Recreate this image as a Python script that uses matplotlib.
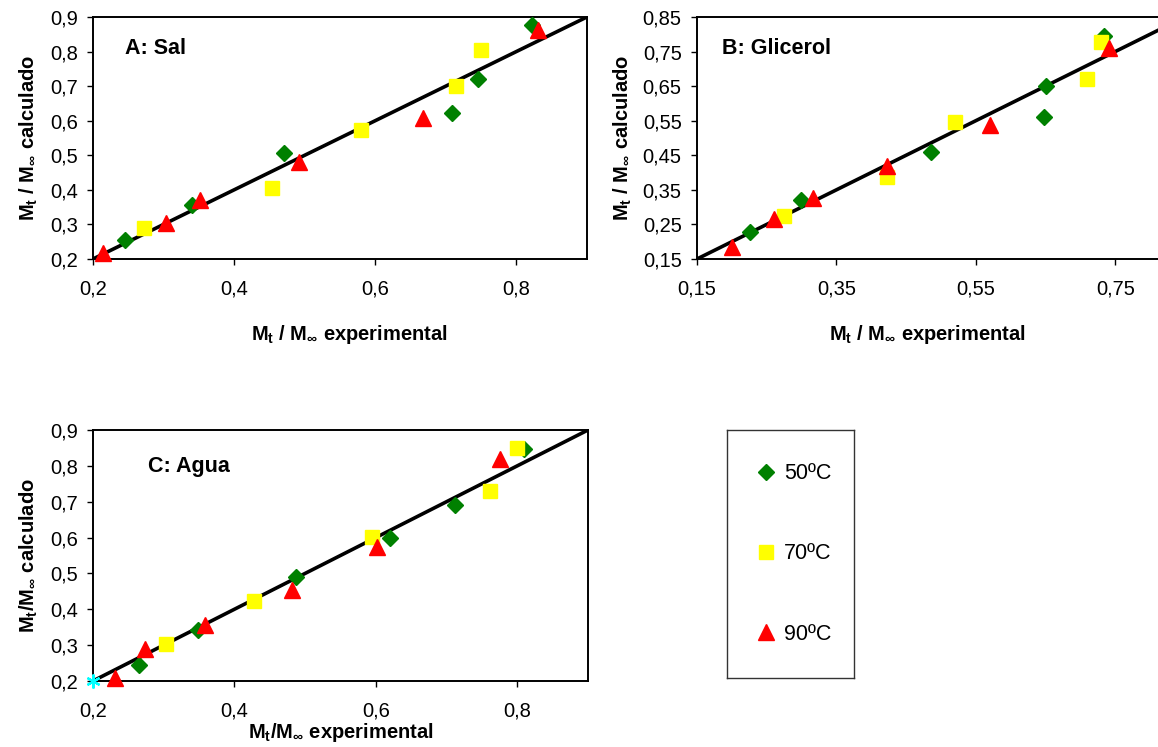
import matplotlib
matplotlib.use("Agg")
import matplotlib.pyplot as plt
from matplotlib.lines import Line2D

plt.rcParams['font.family'] = ['Liberation Sans', 'DejaVu Sans']
plt.rcParams['mathtext.fontset'] = 'custom'
plt.rcParams['mathtext.rm'] = 'Liberation Sans'
plt.rcParams['mathtext.bf'] = 'Liberation Sans:bold'
plt.rcParams['mathtext.it'] = 'Liberation Sans:italic'

# ---- data ----
# A: Sal
a_50_x = [0.245, 0.340, 0.471, 0.709, 0.746, 0.822]
a_50_y = [0.255, 0.357, 0.506, 0.622, 0.721, 0.878]
a_70_x = [0.272, 0.453, 0.580, 0.714, 0.750]
a_70_y = [0.290, 0.405, 0.574, 0.700, 0.803]
a_90_x = [0.214, 0.304, 0.352, 0.492, 0.667, 0.830]
a_90_y = [0.217, 0.304, 0.372, 0.481, 0.608, 0.861]

# B: Glicerol
b_50_x = [0.226, 0.299, 0.486, 0.648, 0.650, 0.734]
b_50_y = [0.227, 0.322, 0.460, 0.562, 0.650, 0.796]
b_70_x = [0.275, 0.423, 0.520, 0.709, 0.729]
b_70_y = [0.274, 0.387, 0.547, 0.670, 0.777]
b_90_x = [0.200, 0.261, 0.317, 0.422, 0.571, 0.741]
b_90_y = [0.186, 0.265, 0.325, 0.420, 0.538, 0.759]

# C: Agua
c_50_x = [0.265, 0.348, 0.487, 0.620, 0.712, 0.809]
c_50_y = [0.244, 0.343, 0.489, 0.598, 0.692, 0.846]
c_70_x = [0.303, 0.427, 0.595, 0.761, 0.800]
c_70_y = [0.302, 0.424, 0.602, 0.731, 0.849]
c_90_x = [0.231, 0.273, 0.358, 0.482, 0.602, 0.776]
c_90_y = [0.209, 0.290, 0.355, 0.455, 0.575, 0.820]
c_extra = [0.2, 0.2]

# axis ranges and ticks
ac_lim = [0.2, 0.9]
ac_xticks = [0.2, 0.4, 0.6, 0.8]
ac_xlabels = ['0,2', '0,4', '0,6', '0,8']
ac_yticks = [0.2, 0.3, 0.4, 0.5, 0.6, 0.7, 0.8, 0.9]
ac_ylabels = ['0,2', '0,3', '0,4', '0,5', '0,6', '0,7', '0,8', '0,9']
b_lim = [0.15, 0.85]
b_xticks = [0.15, 0.35, 0.55, 0.75]
b_xlabels = ['0,15', '0,35', '0,55', '0,75']
b_yticks = [0.15, 0.25, 0.35, 0.45, 0.55, 0.65, 0.75, 0.85]
b_ylabels = ['0,15', '0,25', '0,35', '0,45', '0,55', '0,65', '0,75', '0,85']

labels = ['50ºC', '70ºC', '90ºC']

GREEN = '#008000'
YELLOW = '#FFFF00'
RED = '#FF0000'

fig = plt.figure(figsize=(11.58, 7.47), dpi=100)


def style_axes(ax, lim, xt, xl, yt, yl):
    ax.set_xlim(lim)
    ax.set_ylim(lim)
    ax.set_xticks(xt)
    ax.set_xticklabels(xl)
    ax.set_yticks(yt)
    ax.set_yticklabels(yl)
    ax.tick_params(axis='both', direction='out', length=4, width=1, labelsize=14.5, colors='black')
    ax.tick_params(axis='x', pad=11)
    ax.tick_params(axis='y', pad=7)
    for s in ax.spines.values():
        s.set_linewidth(1.4)
        s.set_color('black')
    # 1:1 line
    ax.plot(lim, lim, color='black', lw=2.6, zorder=2)


def scatter_sets(ax, x50, y50, x70, y70, x90, y90):
    ax.plot(x50, y50, 'D', color=GREEN, ms=8, mec=GREEN, zorder=3, clip_on=False)
    ax.plot(x70, y70, 's', color=YELLOW, ms=9.5, mec=YELLOW, zorder=3, clip_on=False)
    ax.plot(x90, y90, '^', color=RED, ms=11.5, mec=RED, zorder=3, clip_on=False)


ylab = r'$\mathbf{M_t}$ / $\mathbf{M_{\infty}}$ calculado'
xlab = r'$\mathbf{M_t}$ / $\mathbf{M_{\infty}}$ experimental'
LBL = 14.5

# Panel A
axA = fig.add_axes([0.0803, 0.6533, 0.4266, 0.3240])
style_axes(axA, ac_lim, ac_xticks, ac_xlabels, ac_yticks, ac_ylabels)
scatter_sets(axA, a_50_x, a_50_y, a_70_x, a_70_y, a_90_x, a_90_y)
axA.set_xlabel(xlab, fontsize=LBL, fontweight='bold')
axA.xaxis.set_label_coords(0.52, -0.265)
axA.set_ylabel(ylab, fontsize=LBL, fontweight='bold', labelpad=7)
axA.text(0.065, 0.87, 'A: Sal', transform=axA.transAxes, fontsize=15.5,
         fontweight='bold', va='center', ha='left')

# Panel B (runs past the right edge of the figure)
axB = fig.add_axes([0.6019, 0.6533, 0.4214, 0.3240])
style_axes(axB, b_lim, b_xticks, b_xlabels, b_yticks, b_ylabels)
scatter_sets(axB, b_50_x, b_50_y, b_70_x, b_70_y, b_90_x, b_90_y)
axB.set_xlabel(xlab, fontsize=LBL, fontweight='bold')
axB.xaxis.set_label_coords(0.5 * 461 / 488, -0.265)
axB.set_ylabel(ylab, fontsize=LBL, fontweight='bold', labelpad=6)
axB.text(0.051, 0.87, 'B: Glicerol', transform=axB.transAxes, fontsize=15.5,
         fontweight='bold', va='center', ha='left')

# Panel C
axC = fig.add_axes([0.0803, 0.0884, 0.4275, 0.3360])
style_axes(axC, ac_lim, ac_xticks, ac_xlabels, ac_yticks, ac_ylabels)
scatter_sets(axC, c_50_x, c_50_y, c_70_x, c_70_y, c_90_x, c_90_y)
axC.plot([c_extra[0]], [c_extra[1]], marker=(6, 2, 0), color='#00FFFF', ms=10,
         mew=1.6, zorder=4, clip_on=False)
axC.set_xlabel(r'$\mathbf{M_t}$/$\mathbf{M_{\infty}}$ experimental', fontsize=LBL,
               fontweight='bold', labelpad=0)
axC.set_ylabel(r'$\mathbf{M_t}$/$\mathbf{M_{\infty}}$ calculado', fontsize=LBL,
               fontweight='bold', labelpad=7)
axC.text(0.111, 0.853, 'C: Agua', transform=axC.transAxes, fontsize=15.5,
         fontweight='bold', va='center', ha='left')

# legend box
axL = fig.add_axes([0.6278, 0.0924, 0.1097, 0.332])
axL.set_xticks([])
axL.set_yticks([])
for s in axL.spines.values():
    s.set_linewidth(1)
    s.set_color('#333333')
handles = [
    Line2D([], [], ls='none', marker='D', color=GREEN, ms=8),
    Line2D([], [], ls='none', marker='s', color=YELLOW, ms=9.5),
    Line2D([], [], ls='none', marker='^', color=RED, ms=11.5),
]
axL.legend(handles, labels, loc='center', bbox_to_anchor=(0.54, 0.5),
           frameon=False, fontsize=15.5, labelspacing=2.75, handlelength=0.6,
           handletextpad=0.55, borderaxespad=0)

fig.savefig('out.png', dpi=100)
